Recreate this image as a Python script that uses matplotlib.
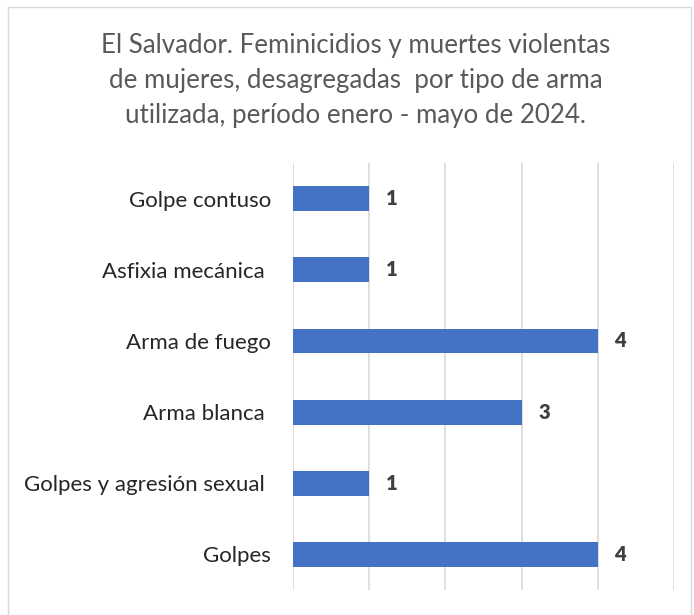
import matplotlib.pyplot as plt
from matplotlib.patches import Rectangle

categorias = ['Golpe contuso', 'Asfixia mecánica ', 'Arma de fuego', 'Arma blanca ',
              'Golpes y agresión sexual ', 'Golpes']
valores = [1, 1, 4, 3, 1, 4]
titulo = ('El Salvador. Feminicidios y muertes violentas\n'
          'de mujeres, desagregadas  por tipo de arma\n'
          'utilizada, período enero - mayo de 2024.')

plt.rcParams['font.family'] = ['Lato', 'DejaVu Sans']

fig = plt.figure(figsize=(6.94, 6.15), dpi=100)
ax = fig.add_axes([0.4222, 0.0407, 0.549, 0.694])

# categorias de arriba hacia abajo
pos = list(range(len(categorias)))[::-1]
ax.barh(pos, valores, height=0.35, color='#4472C4', zorder=3)
for p, v in zip(pos, valores):
    ax.annotate(str(v), (v, p), xytext=(12, 0), textcoords='offset points',
                ha='left', va='center', fontsize=14.5, fontweight='heavy', color='#404040')

ax.set_xlim(0, 5)
ax.set_ylim(-0.5, 5.5)
ax.set_xticks(range(6))
ax.set_xticklabels([])
ax.set_yticks(pos)
ax.set_yticklabels(categorias, fontsize=16, color='#262626')
ax.tick_params(axis='both', length=0)
ax.tick_params(axis='y', pad=16)
ax.grid(axis='x', color='#d9d9d9', linewidth=1.2, zorder=0)
for s in ax.spines.values():
    s.set_visible(False)

fig.text(0.512, 0.947, titulo, ha='center', va='top', fontsize=18.6,
         color='#595959', linespacing=1.52)

fig.patches.append(Rectangle((0.012, -0.01), 0.984, 0.998, transform=fig.transFigure,
                             fill=False, edgecolor='#d9d9d9', linewidth=1))

fig.savefig('out.png', dpi=100)
